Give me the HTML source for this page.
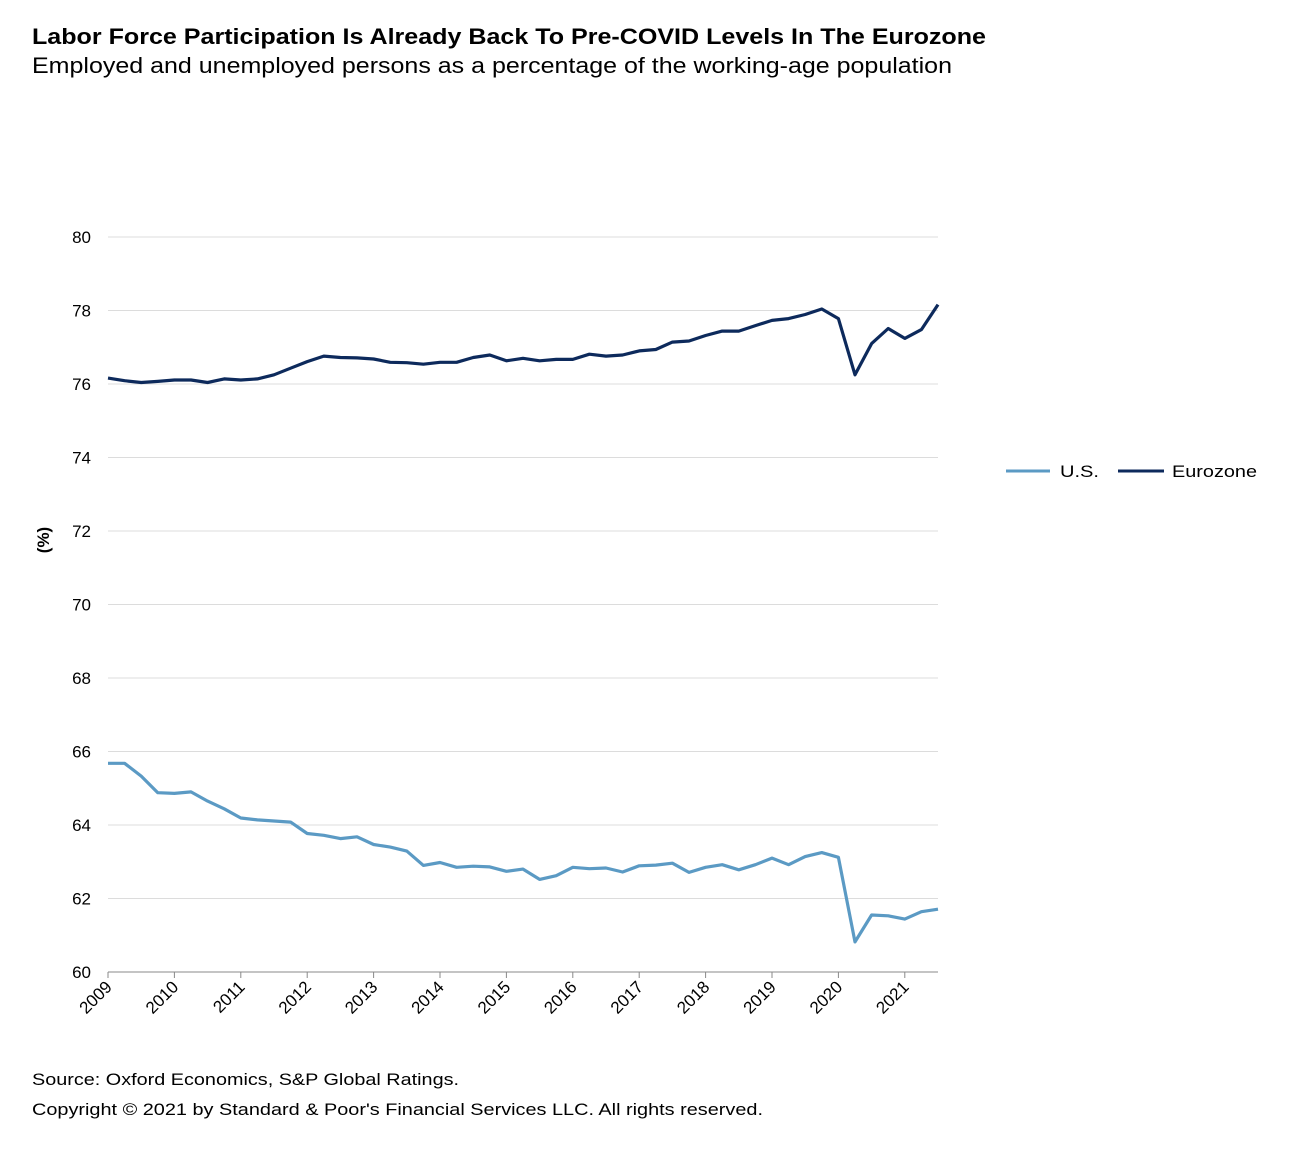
<!DOCTYPE html>
<html><head><meta charset="utf-8"><style>
body{margin:0;background:#fff;font-family:"Liberation Sans",Arial,sans-serif;}
svg text{font-family:"Liberation Sans",Arial,sans-serif;}
</style></head><body>
<svg id="c" width="1290" height="1164" xmlns="http://www.w3.org/2000/svg">
<text x="32" y="44" font-size="22" font-weight="bold" fill="#000" textLength="954" lengthAdjust="spacingAndGlyphs">Labor Force Participation Is Already Back To Pre-COVID Levels In The Eurozone</text>
<text x="32" y="73" font-size="22" fill="#000" textLength="920" lengthAdjust="spacingAndGlyphs">Employed and unemployed persons as a percentage of the working-age population</text>
<g id="grid"></g><g id="axes"></g><g id="series"></g>
<text transform="translate(49,540) rotate(-90)" text-anchor="middle" font-size="17" font-weight="bold">(%)</text>
<g>
<line x1="1006" y1="471" x2="1050" y2="471" stroke="#5b9ac4" stroke-width="3"/>
<text x="1060" y="477" font-size="17" textLength="39" lengthAdjust="spacingAndGlyphs">U.S.</text>
<line x1="1118" y1="471" x2="1164" y2="471" stroke="#0d2a5c" stroke-width="3"/>
<text x="1172" y="477" font-size="17" textLength="85" lengthAdjust="spacingAndGlyphs">Eurozone</text>
</g>
<text x="32" y="1085" font-size="17" textLength="427" lengthAdjust="spacingAndGlyphs">Source: Oxford Economics, S&amp;P Global Ratings.</text>
<text x="32" y="1115" font-size="17" textLength="731" lengthAdjust="spacingAndGlyphs">Copyright © 2021 by Standard &amp; Poor's Financial Services LLC. All rights reserved.</text>
</svg>
<script>
const yearLabels=["2009","2010","2011","2012","2013","2014","2015","2016","2017","2018","2019","2020","2021"];
const yTicks=[60,62,64,66,68,70,72,74,76,78,80];
const usValues=[65.68,65.68,65.33,64.88,64.86,64.90,64.65,64.44,64.19,64.14,64.11,64.08,63.77,63.72,63.63,63.68,63.47,63.40,63.29,62.90,62.98,62.85,62.88,62.86,62.74,62.80,62.52,62.62,62.85,62.81,62.83,62.72,62.89,62.91,62.96,62.71,62.85,62.92,62.78,62.92,63.10,62.92,63.14,63.25,63.12,60.82,61.55,61.53,61.44,61.64,61.71];
const euroValues=[76.16,76.09,76.04,76.07,76.11,76.11,76.04,76.14,76.11,76.14,76.25,76.43,76.61,76.76,76.72,76.71,76.68,76.59,76.58,76.54,76.59,76.59,76.72,76.79,76.63,76.70,76.63,76.67,76.67,76.81,76.76,76.79,76.90,76.94,77.14,77.17,77.32,77.44,77.44,77.59,77.73,77.78,77.89,78.04,77.78,76.25,77.10,77.51,77.24,77.48,78.16];
const NS="http://www.w3.org/2000/svg";
const X0=108,X1=938,Y0=972,Y1=237,N=usValues.length;
const xs=i=>X0+(X1-X0)*i/(N-1);
const ys=v=>Y0-(v-60)/(80-60)*(Y0-Y1);
function mk(tag,attrs,parent){const e=document.createElementNS(NS,tag);for(const k in attrs)e.setAttribute(k,attrs[k]);parent.appendChild(e);return e;}
const grid=document.getElementById('grid'),axes=document.getElementById('axes'),ser=document.getElementById('series');
yTicks.forEach(v=>{
  if(v>60){const l=mk('line',{x1:X0,x2:X1,y1:ys(v),y2:ys(v),stroke:'#dcdcdc','stroke-width':1},grid);
  
  }
  const t=mk('text',{x:91,y:ys(v)+6,'text-anchor':'end','font-size':17},axes);t.textContent=v;
  
  
});
const ax=mk('line',{x1:X0,x2:X1,y1:Y0,y2:Y0,stroke:'#888','stroke-width':1},axes);


yearLabels.forEach((lab,j)=>{
  const x=xs(j*4);
  const tk=mk('line',{x1:x,x2:x,y1:Y0,y2:Y0+6,stroke:'#888'},axes);
  
  
  const t=mk('text',{transform:`translate(${x+5},${Y0+16}) rotate(-45)`,'text-anchor':'end','font-size':17},axes);t.textContent=lab;
  
  
});
function line(vals,color,name){
  const p=mk('polyline',{points:vals.map((v,i)=>xs(i).toFixed(1)+','+ys(v).toFixed(1)).join(' '),fill:'none',stroke:color,'stroke-width':3.2,'stroke-linejoin':'round'},ser);
  
  
}
line(usValues,'#5b9ac4','us-line');
line(euroValues,'#0d2a5c','eurozone-line');
</script>
</body></html>
